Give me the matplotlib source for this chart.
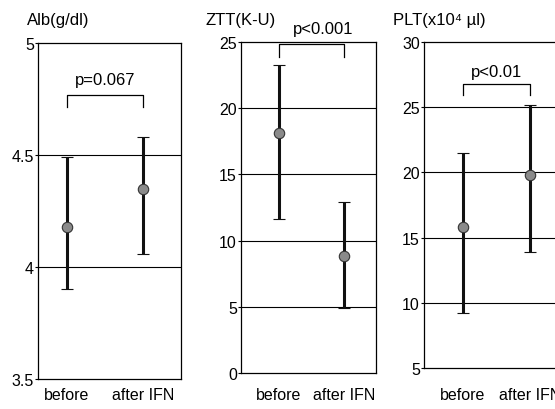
import matplotlib
matplotlib.use("Agg")
import matplotlib.pyplot as plt
from matplotlib.transforms import blended_transform_factory

plt.rcParams['font.family'] = ['Liberation Sans', 'DejaVu Sans']

# data (mean, upper and lower end of the bar)
groups = ["before", "after IFN"]
titles = ["Alb(g/dl)", "ZTT(K-U)", "PLT(x10\u2074 \u00b5l)"]
p_labels = ["p=0.067", "p<0.001", "p<0.01"]

alb_mean = [4.18, 4.35]
alb_upper = [4.49, 4.58]
alb_lower = [3.90, 4.06]

ztt_mean = [18.1, 8.8]
ztt_upper = [23.3, 12.9]
ztt_lower = [11.6, 4.9]

plt_mean = [15.8, 19.8]
plt_upper = [21.5, 25.2]
plt_lower = [9.2, 13.9]

alb_ticks = [3.5, 4, 4.5, 5]
ztt_ticks = [0, 5, 10, 15, 20, 25]
plt_ticks = [5, 10, 15, 20, 25, 30]

W, H = 555, 410
fig = plt.figure(figsize=(W / 100, H / 100), dpi=100)


def px_rect(left, right, top, bottom):
    return [left / W, 1 - bottom / H, (right - left) / W, (bottom - top) / H]


panels = [
    # rect, xlim, means, uppers, lowers, ticks, tick labels, bracket (top, foot), p text (x, y), title x
    (px_rect(38, 181, 44, 380), (-0.38, 1.50), alb_mean, alb_upper, alb_lower,
     alb_ticks, ["3.5", "4", "4.5", "5"], (4.77, 4.715), (0.5, 4.835), 27),
    (px_rect(241, 376, 43, 374), (-0.58, 1.49), ztt_mean, ztt_upper, ztt_lower,
     ztt_ticks, [str(t) for t in ztt_ticks], (24.85, 23.9), (0.68, 26.0), 205),
    (px_rect(424, 559, 43, 369), (-0.58, 1.43), plt_mean, plt_upper, plt_lower,
     plt_ticks, [str(t) for t in plt_ticks], (26.8, 25.9), (0.5, 27.7), 393),
]

for i, (rect, xlim, mean, upper, lower, ticks, tlabels, brk, ptxt, tx) in enumerate(panels):
    ax = fig.add_axes(rect)
    xs = list(range(len(groups)))
    yerr = [[m - lo for m, lo in zip(mean, lower)],
            [u - m for m, u in zip(mean, upper)]]
    ax.errorbar(xs, mean, yerr=yerr, fmt='o', color='black', ecolor='#111111',
                elinewidth=2.2, capsize=4.5, capthick=1.3,
                markersize=7.5, markerfacecolor='#8a8a8a', markeredgecolor='#333333',
                markeredgewidth=0.8, zorder=3)
    ax.set_xlim(*xlim)
    ax.set_ylim(ticks[0], ticks[-1])
    ax.set_yticks(ticks)
    ax.set_yticklabels(tlabels)
    ax.set_xticks([])
    ax.tick_params(axis='y', length=2, pad=1, labelsize=11.5)
    for t in ticks[1:-1]:
        ax.axhline(t, color='black', lw=0.8, zorder=1)
    for s in ax.spines.values():
        s.set_linewidth(0.9)

    # significance bracket
    top, foot = brk
    ax.plot([0, 0, 1, 1], [foot, top, top, foot], color='black', lw=0.9, clip_on=False)
    ax.text(ptxt[0], ptxt[1], p_labels[i], ha='center', va='center', fontsize=12,
            clip_on=False)

    trans = blended_transform_factory(ax.transData, fig.transFigure)
    for x, g in zip(xs, groups):
        ax.text(x, 1 - 396 / H, g, ha='center', va='center', fontsize=11.5, transform=trans)

    fig.text(tx / W, 1 - 20 / H, titles[i], ha='left', va='center', fontsize=12)

fig.savefig("out.png", dpi=100)
